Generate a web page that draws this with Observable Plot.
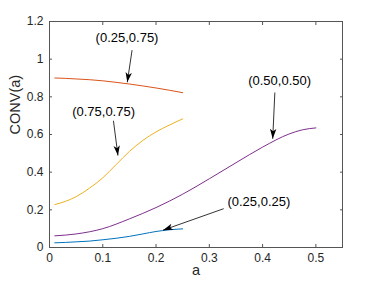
<!DOCTYPE html>
<html>
<head>
<meta charset="utf-8">
<script src="https://cdn.jsdelivr.net/npm/d3@7"></script>
<script src="https://cdn.jsdelivr.net/npm/@observablehq/plot@0.6"></script>
<style>
  html, body { margin: 0; padding: 0; background: #fff; }
  #chart { width: 378px; height: 283px; }
</style>
</head>
<body>
<div id="chart"></div>
<script>
// ---- data ----
const seriesNames = ["(0.25,0.25)", "(0.25,0.75)", "(0.75,0.75)", "(0.50,0.50)"];
const seriesColors = ["#0072BD", "#D95319", "#EDB120", "#7E2F8E"];

const aShort = [0.01, 0.03, 0.05, 0.075, 0.1, 0.125, 0.15, 0.175, 0.2, 0.225, 0.25];
const conv025_025 = [0.025, 0.027, 0.030, 0.034, 0.041, 0.049, 0.059, 0.072, 0.085, 0.094, 0.099];
const conv025_075 = [0.900, 0.898, 0.895, 0.891, 0.885, 0.877, 0.868, 0.858, 0.847, 0.835, 0.822];
const conv075_075 = [0.228, 0.245, 0.270, 0.315, 0.370, 0.440, 0.510, 0.568, 0.614, 0.650, 0.683];

const aLong = [0.01, 0.05, 0.1, 0.15, 0.2, 0.25, 0.3, 0.35, 0.4, 0.45, 0.475, 0.5];
const conv050_050 = [0.062, 0.072, 0.100, 0.152, 0.212, 0.283, 0.365, 0.450, 0.533, 0.603, 0.625, 0.635];

const xTicks = [0, 0.1, 0.2, 0.3, 0.4, 0.5];
const yTicks = [0, 0.2, 0.4, 0.6, 0.8, 1, 1.2];

const annLabels = ["(0.25,0.75)", "(0.75,0.75)", "(0.50,0.50)", "(0.25,0.25)"];
const annTextA = [0.1455, 0.1015, 0.432, 0.393];
const annTextC = [1.111, 0.721, 0.885, 0.241];
const arrowTailA = [0.155, 0.120, 0.423, 0.327];
const arrowTailC = [1.048, 0.673, 0.823, 0.206];
const arrowTipA = [0.146, 0.1285, 0.419, 0.213];
const arrowTipC = [0.877, 0.488, 0.577, 0.092];

// ---- build tables ----
const rows = [];
const addSeries = (name, xs, ys) => xs.forEach((a, i) => rows.push({series: name, a, c: ys[i]}));
addSeries(seriesNames[0], aShort, conv025_025);
addSeries(seriesNames[1], aShort, conv025_075);
addSeries(seriesNames[2], aShort, conv075_075);
addSeries(seriesNames[3], aLong, conv050_050);

const anns = annLabels.map((t, i) => ({
  label: t, tx: annTextA[i], ty: annTextC[i],
  x1: arrowTailA[i], y1: arrowTailC[i], x2: arrowTipA[i], y2: arrowTipC[i]
}));

function headMarker(color) {
  const m = d3.create("svg:marker")
    .attr("viewBox", "-10 -5 10 10")
    .attr("markerWidth", 10)
    .attr("markerHeight", 10)
    .attr("markerUnits", "userSpaceOnUse")
    .attr("orient", "auto")
    .attr("refX", 0)
    .attr("refY", 0)
    .attr("overflow", "visible");
  m.append("path").attr("d", "M0,0L-10,-3.2L-7.5,0L-10,3.2Z").attr("fill", "#000").attr("stroke", "none");
  return m.node();
}

const axisColor = "#555";
const fmt = d => String(d);

const chart = Plot.plot({
  width: 378,
  height: 283,
  marginLeft: 49,
  marginRight: 36,
  marginTop: 21,
  marginBottom: 36,
  style: {fontFamily: "'Liberation Sans', Arial, Helvetica, sans-serif", fontSize: "12px", color: "#262626", background: "#fff"},
  x: {domain: [0, 0.55]},
  y: {domain: [0, 1.2]},
  color: {domain: seriesNames, range: seriesColors},
  marks: [
    Plot.lineY(rows, {x: "a", y: "c", z: "series", stroke: "series", strokeWidth: 1, curve: "monotone-x"}),
    Plot.frame({stroke: axisColor, strokeWidth: 1}),
    Plot.axisX({ticks: xTicks, tickSize: -3, tickPadding: 9, tickFormat: fmt, stroke: axisColor, fill: "#262626", fontSize: 12, label: null}),
    Plot.axisX({ticks: xTicks, anchor: "top", tickSize: -3, tickFormat: () => "", stroke: axisColor, label: null}),
    Plot.axisY({ticks: yTicks, tickSize: -3, tickPadding: 9, tickFormat: fmt, stroke: axisColor, fill: "#262626", fontSize: 12, label: null}),
    Plot.axisY({ticks: yTicks, anchor: "right", tickSize: -3, tickFormat: () => "", stroke: axisColor, label: null}),
    Plot.text(["a"], {frameAnchor: "bottom", dy: 27, fontSize: 14.5, fill: "#262626"}),
    Plot.text(["CONV(a)"], {frameAnchor: "left", dx: -34, rotate: -90, fontSize: 14.5, fill: "#262626"}),
    Plot.link(anns, {x1: "x1", y1: "y1", x2: "x2", y2: "y2", stroke: "#000", strokeWidth: 0.8, markerEnd: headMarker}),
    Plot.text(anns, {x: "tx", y: "ty", text: "label", fontSize: 13, fill: "#000"})
  ]
});
document.getElementById("chart").append(chart);
</script>
</body>
</html>
